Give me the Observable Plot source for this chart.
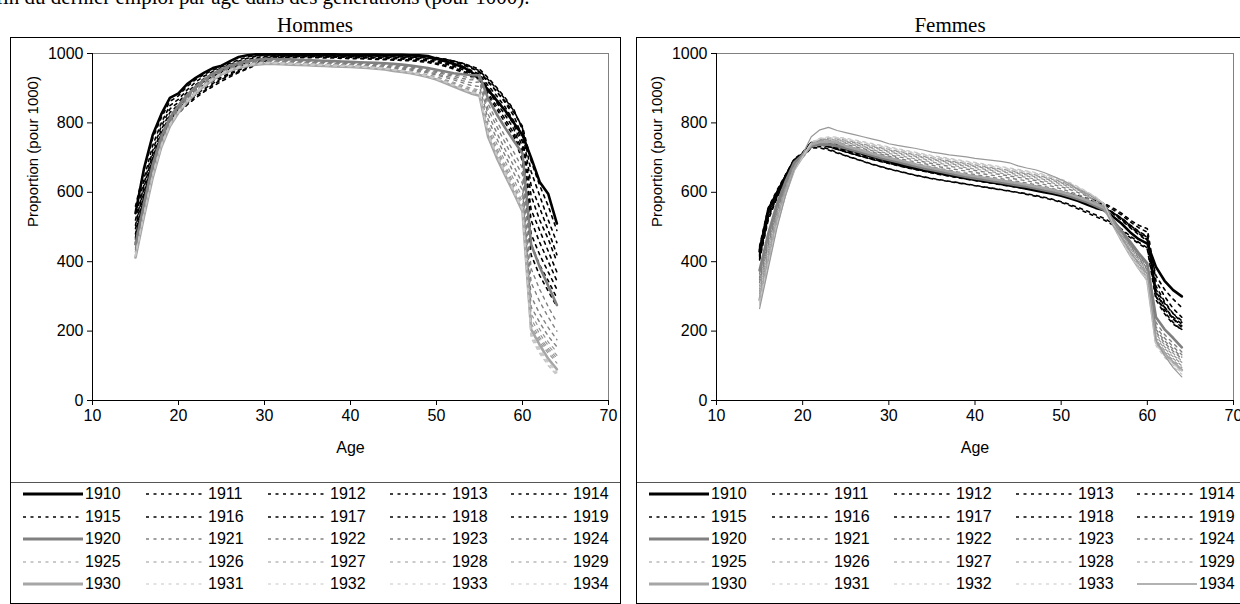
<!DOCTYPE html>
<html><head><meta charset="utf-8">
<script src="https://cdn.jsdelivr.net/npm/d3@7"></script>
<script src="https://cdn.jsdelivr.net/npm/@observablehq/plot@0.6"></script>
<style>
html,body{margin:0;padding:0;background:#fff;}
body{width:1240px;height:604px;overflow:hidden;position:relative;font-family:"Liberation Sans",Arial,sans-serif;}
.abs{position:absolute;}
.frame{position:absolute;border:1px solid #000;box-sizing:border-box;pointer-events:none;}
.divider{position:absolute;height:1px;background:#555;}
.ttl{position:absolute;font-family:"Liberation Serif","Times New Roman",serif;font-size:21px;line-height:24px;text-align:center;white-space:nowrap;}
.lg{position:absolute;font-size:16px;line-height:18px;white-space:nowrap;}
</style></head><body>
<div class="ttl" style="left:-4px;top:-15px;text-align:left;">fin du dernier emploi par âge dans des générations (pour 1000).</div>
<div class="ttl" style="left:10px;width:610px;top:13px;">Hommes</div>
<div class="ttl" style="left:850px;width:200px;top:13px;">Femmes</div>
<div id="pH" class="abs" style="left:10px;top:37px;"></div>
<div id="pF" class="abs" style="left:636px;top:37px;"></div>
<div id="legH"></div>
<div id="legF"></div>
<div class="frame" style="left:10px;top:37px;width:611px;height:567px;"></div>
<div class="divider" style="left:11px;top:482px;width:609px;"></div>
<div class="frame" style="left:636px;top:37px;width:640px;height:567px;"></div>
<div class="divider" style="left:637px;top:482px;width:640px;"></div>
<script>
const ages = [15,16,17,18,19,20,21,22,23,24,25,26,27,28,29,30,31,32,33,34,35,36,37,38,39,40,41,42,43,44,45,46,47,48,49,50,51,52,53,54,55,56,57,58,59,60,61,62,63,64];
const cohorts = [1910,1911,1912,1913,1914,1915,1916,1917,1918,1919,1920,1921,1922,1923,1924,1925,1926,1927,1928,1929,1930,1931,1932,1933,1934];
const xTicks = [10,20,30,40,50,60,70];
const yTicks = [0,200,400,600,800,1000];
const xLabel = "Age";
const yLabel = "Proportion (pour 1000)";

// Hommes
const h1910 = [540,670,765,825,872,885,912,930,945,958, 965,978,990,995,998,998,998,998,998,998, 998,998,998,998,997,997,997,997,997,996, 996,996,995,995,993,985,978,970,962,948, 925,895,865,835,800,765,700,630,595,510];
const h1911 = [560,665,755,815,862,878,905,925,940,952, 962,972,982,990,994,996,997,997,997,997, 997,997,997,996,996,996,996,995,995,995, 995,994,994,993,991,988,984,978,970,960, 945,918,890,862,830,790,690,620,560,490];
const h1912 = [520,640,735,800,850,868,895,918,935,948, 958,968,978,986,992,995,996,996,996,996, 996,996,996,996,995,995,995,995,994,994, 994,993,993,992,990,987,983,978,972,962, 950,925,898,868,835,785,660,590,520,455];
const h1913 = [505,625,720,790,840,860,888,910,928,942, 952,962,972,982,988,992,994,995,995,995, 995,995,995,995,994,994,994,993,993,993, 993,992,992,991,989,986,983,978,972,964, 955,930,902,872,838,780,620,555,490,420];
const h1914 = [495,615,710,780,830,852,880,902,920,935, 946,956,966,975,984,990,993,994,994,994, 994,994,994,993,993,993,992,992,992,991, 991,990,990,989,987,984,980,975,968,958, 948,920,890,858,820,760,590,520,465,400];
const h1915 = [480,600,700,770,822,845,872,895,912,928, 940,950,960,970,980,987,991,993,993,993, 993,993,993,992,992,991,991,990,990,990, 989,988,988,987,985,981,977,971,963,952, 940,908,878,845,805,745,550,490,430,370];
const h1916 = [470,590,695,765,815,840,865,888,905,920, 932,944,955,965,976,985,990,992,992,992, 992,992,991,991,990,990,989,989,988,988, 987,986,986,985,982,978,973,967,958,947, 935,900,868,833,795,730,520,455,400,345];
const h1917 = [465,585,690,760,810,835,860,882,898,914, 928,940,952,962,973,982,988,990,991,991, 991,991,990,990,989,989,988,987,987,986, 985,984,983,982,979,975,970,963,954,943, 932,893,858,822,782,715,480,420,370,320];
const h1918 = [455,580,685,755,805,830,855,877,893,910, 925,937,948,958,970,980,986,989,990,990, 990,990,989,989,988,987,987,986,985,984, 983,982,981,980,977,972,966,959,950,939, 928,885,848,810,770,700,450,390,345,295];
const h1919 = [450,575,680,752,800,828,852,872,890,905, 920,933,945,956,967,978,984,987,988,988, 988,988,987,987,986,985,985,984,983,982, 981,980,979,977,974,969,963,955,946,934, 925,878,840,800,760,690,420,360,315,270];
const h1920 = [450,570,680,760,815,850,880,905,925,942, 955,965,973,978,982,984,984,983,983,982, 981,980,979,978,977,976,975,974,973,972, 970,968,965,962,958,953,948,943,940,938, 937,870,825,785,748,712,450,385,330,275];
const h1921 = [440,560,670,752,810,845,875,900,920,938, 952,962,970,975,979,981,981,980,980,979, 978,977,976,975,974,973,972,971,970,969, 967,964,961,957,953,948,943,938,934,930, 930,855,805,760,715,670,380,320,270,225];
const h1922 = [435,555,665,748,805,842,872,898,918,935, 950,960,968,973,977,979,979,978,978,977, 976,975,974,973,972,971,970,969,968,966, 964,961,958,954,950,945,940,934,928,924, 925,840,790,742,695,650,340,285,240,200];
const h1923 = [430,550,660,745,802,840,870,895,915,933, 948,958,966,972,976,978,978,977,976,975, 974,973,972,971,970,969,968,967,965,963, 961,958,955,951,947,941,935,929,922,916, 918,825,772,722,675,625,300,250,210,175];
const h1924 = [428,548,658,742,800,838,868,893,913,931, 946,956,965,971,975,977,977,976,975,974, 973,972,971,970,969,968,967,965,963,961, 958,955,952,948,944,938,931,924,916,908, 905,810,755,705,655,605,270,225,185,155];
const h1925 = [425,545,655,740,798,836,866,892,912,930, 945,955,964,970,974,976,976,975,974,973, 972,971,970,969,968,967,966,964,962,960, 955,952,948,944,939,933,925,917,908,900, 895,795,740,688,636,585,250,205,168,140];
const h1926 = [422,542,652,738,796,835,865,890,911,929, 944,954,963,969,973,975,975,974,973,972, 971,970,969,968,967,966,965,963,961,959, 953,950,946,942,937,930,922,914,904,896, 892,785,728,676,624,572,235,192,158,130];
const h1927 = [420,540,650,736,795,834,864,889,910,928, 943,953,962,968,972,974,974,973,972,971, 970,969,968,967,966,965,964,962,960,958, 952,949,945,940,935,928,920,911,901,893, 889,778,720,668,615,563,222,182,150,122];
const h1928 = [418,538,648,735,794,833,863,888,909,927, 942,952,961,967,971,973,973,972,971,970, 969,968,967,966,965,964,963,961,959,957, 951,948,944,939,933,926,918,909,899,890, 886,772,714,662,608,556,212,175,143,115];
const h1929 = [416,536,646,734,793,832,862,887,908,926, 941,951,960,966,970,972,972,971,970,969, 968,967,966,965,964,963,962,960,958,956, 950,947,943,938,932,925,916,907,897,888, 884,768,710,657,604,550,205,168,136,108];
const h1930 = [412,532,642,730,790,830,860,885,906,924, 940,950,958,964,968,970,970,969,968,967, 966,965,964,963,962,961,960,958,956,954, 950,947,943,938,932,925,915,905,895,885, 878,760,700,648,598,545,205,160,120,90];
const h1931 = [415,535,645,732,792,831,861,886,907,925, 941,951,959,965,969,971,971,970,969,968, 967,966,965,964,963,962,961,959,957,955, 951,948,944,939,933,926,917,907,897,887, 880,765,705,652,600,548,195,150,112,85];
const h1932 = [418,538,648,734,794,832,862,887,908,926, 942,952,960,966,970,972,972,971,970,969, 968,967,966,965,964,963,962,960,958,956, 952,949,945,940,934,927,918,908,898,888, 882,768,708,655,603,550,190,145,108,80];
const h1933 = [420,540,650,736,795,833,863,888,909,927, 943,953,961,967,971,973,973,972,971,970, 969,968,967,966,965,964,963,961,959,957, 953,950,946,941,935,928,919,909,899,889, 884,770,710,657,605,552,185,140,102,75];
const h1934 = [422,542,652,738,797,834,864,889,910,928, 944,954,962,968,972,974,974,973,972,971, 970,969,968,967,966,965,964,962,960,958, 954,951,947,942,936,929,920,910,900,890, 885,772,712,660,608,555,180,135,100,72];

// Femmes
const f1910 = [430,550,598,645,692,710,742,745,740,733, 725,718,710,703,697,690,682,676,670,664, 660,655,650,645,640,636,632,628,624,620, 615,610,605,600,596,590,583,575,565,555, 548,530,510,485,465,452,385,345,318,300];
const f1911 = [445,555,605,650,695,715,745,748,744,738, 731,724,717,710,704,698,691,685,679,673, 668,663,658,653,648,644,640,636,632,628, 624,619,614,609,604,598,591,583,574,565, 556,540,522,500,482,465,360,320,292,268];
const f1912 = [420,535,590,640,690,712,740,742,738,731, 724,717,711,705,699,693,687,681,675,670, 665,661,657,653,649,645,641,637,633,629, 625,621,617,612,607,602,596,590,583,576, 568,555,540,520,505,495,345,300,265,240];
const f1913 = [440,545,600,648,693,708,735,738,733,725, 717,710,703,697,691,685,679,673,667,662, 657,652,647,642,638,634,630,626,622,618, 614,610,606,602,597,592,586,579,571,562, 553,538,520,498,478,460,330,285,250,225];
const f1914 = [415,530,588,638,688,708,738,740,735,728, 721,714,708,702,696,690,684,678,672,667, 662,657,652,648,644,640,636,632,628,624, 620,616,612,608,603,598,592,586,579,572, 564,550,535,515,498,485,315,270,235,210];
const f1915 = [425,540,594,642,690,705,730,732,725,715, 706,698,690,682,675,668,662,656,650,645, 640,636,632,628,624,620,616,612,608,604, 600,596,591,586,580,573,565,556,546,535, 525,510,494,474,456,440,300,255,225,202];
const f1916 = [410,525,585,636,686,702,728,728,722,713, 705,697,689,681,674,667,661,655,649,644, 639,635,631,627,623,619,615,611,607,603, 599,594,589,584,578,571,562,552,541,530, 520,506,490,470,452,436,290,250,220,205];
const f1917 = [435,548,600,646,691,710,736,739,734,726, 718,710,703,696,690,684,678,672,667,662, 657,652,648,644,640,636,632,628,624,620, 616,612,608,604,599,594,588,581,573,565, 556,542,526,506,488,472,320,280,250,230];
const f1918 = [418,532,590,640,689,707,735,737,732,724, 716,709,702,695,689,683,677,671,666,661, 656,651,647,643,639,635,631,627,623,619, 615,611,607,603,598,593,587,580,572,564, 555,541,525,505,486,470,310,268,240,220];
const f1919 = [405,520,582,634,685,705,733,736,731,724, 717,710,703,697,691,685,679,673,668,663, 658,654,650,646,642,638,634,630,626,622, 618,614,610,606,601,596,590,583,575,566, 557,542,525,503,482,462,300,262,236,215];
const f1920 = [375,480,565,630,685,708,732,738,737,733, 727,720,713,706,699,693,687,681,675,669, 664,659,654,649,644,640,636,632,628,624, 620,616,611,606,601,595,588,580,571,560, 549,520,490,458,425,395,240,205,180,153];
const f1921 = [365,470,558,625,683,708,733,740,739,735, 729,722,715,708,702,696,690,684,678,673, 668,663,658,653,649,645,641,637,633,629, 625,621,616,611,605,599,592,584,575,565, 553,522,490,456,422,390,225,190,165,140];
const f1922 = [355,462,552,622,681,707,734,741,741,737, 731,725,718,712,706,700,694,688,683,678, 673,668,664,659,655,651,647,643,639,635, 631,627,622,617,611,604,597,589,579,568, 556,522,488,453,418,385,212,180,155,132];
const f1923 = [348,455,548,620,680,707,735,743,743,740, 734,728,722,716,710,704,698,693,688,683, 678,673,669,665,661,657,653,649,645,641, 637,633,628,623,617,610,602,593,583,572, 558,522,486,450,414,380,205,172,148,125];
const f1924 = [340,448,543,617,678,706,736,745,746,743, 738,732,726,720,714,708,703,698,693,688, 683,679,675,671,667,663,659,655,651,647, 643,639,634,629,623,616,608,599,589,577, 562,522,484,447,410,376,198,166,142,120];
const f1925 = [330,440,538,614,676,706,737,747,748,746, 741,735,729,723,717,712,707,702,697,692, 687,683,679,675,671,667,663,659,655,651, 647,643,638,633,627,620,612,603,593,580, 565,522,482,444,406,372,192,160,136,114];
const f1926 = [322,432,532,610,674,705,738,748,750,748, 744,738,732,726,721,716,711,706,701,696, 691,687,683,679,675,671,667,663,659,655, 651,647,642,637,631,624,616,606,595,582, 566,520,478,440,402,368,186,155,131,110];
const f1927 = [315,425,527,607,672,705,739,750,752,750, 746,740,734,729,724,719,714,709,704,699, 694,690,686,682,678,674,670,666,662,658, 654,650,645,640,634,627,618,608,597,583, 567,518,475,436,398,363,180,150,126,105];
const f1928 = [308,418,522,604,670,704,740,751,754,752, 748,743,737,732,727,722,717,712,707,702, 697,693,689,685,681,677,673,669,665,661, 657,653,648,643,637,629,620,610,598,584, 567,516,472,432,394,358,175,145,121,100];
const f1929 = [300,410,517,600,668,704,741,752,755,754, 750,745,739,734,729,724,719,714,709,704, 699,695,691,687,683,679,675,671,667,663, 659,655,650,645,639,631,622,611,599,585, 567,514,469,428,390,354,170,140,116,95];
const f1930 = [290,400,510,596,665,703,738,745,746,743, 733,726,719,712,705,699,693,687,681,675, 670,665,660,655,650,646,642,638,634,630, 626,622,617,612,607,601,594,586,577,566, 555,508,462,420,382,348,168,135,110,88];
const f1931 = [285,395,506,594,664,703,742,754,757,756, 752,747,742,737,732,727,722,717,712,707, 702,698,694,690,686,682,678,674,670,666, 662,658,653,648,642,634,624,613,600,585, 566,510,465,424,386,350,165,132,106,85];
const f1932 = [280,390,502,592,663,703,743,755,758,757, 754,749,744,739,734,729,724,719,714,709, 704,700,696,692,688,684,680,676,672,668, 664,660,655,650,644,636,626,614,601,586, 566,508,462,420,382,346,162,128,102,80];
const f1933 = [275,385,498,590,662,703,744,756,760,759, 756,751,746,741,736,731,726,721,716,711, 706,702,698,694,690,686,682,678,674,670, 666,662,657,652,646,638,628,616,602,587, 566,506,460,418,378,342,158,124,98,76];
const f1934 = [265,380,495,590,665,710,760,780,787,778, 772,766,760,754,748,740,735,731,727,722, 716,712,708,705,702,698,695,692,689,685, 676,670,665,657,647,636,624,608,590,572, 556,505,470,430,395,366,173,130,95,68];

const hommesSeries = [h1910,h1911,h1912,h1913,h1914,h1915,h1916,h1917,h1918,h1919,h1920,h1921,h1922,h1923,h1924,h1925,h1926,h1927,h1928,h1929,h1930,h1931,h1932,h1933,h1934];
const femmesSeries = [f1910,f1911,f1912,f1913,f1914,f1915,f1916,f1917,f1918,f1919,f1920,f1921,f1922,f1923,f1924,f1925,f1926,f1927,f1928,f1929,f1930,f1931,f1932,f1933,f1934];

function styleFor(c, panel) {
  if (c === 1910) return {stroke:"#000000", w:2.6, dash:null};
  if (c < 1920) return {stroke:"#000000", w:1.6, dash:"3,4.5"};
  if (c === 1920) return {stroke:"#808080", w:2.6, dash:null};
  if (c < 1925) return {stroke:"#808080", w:1.4, dash:"3,4.5"};
  if (c < 1930) return {stroke:"#969696", w:1.2, dash:"3,4.5"};
  if (c === 1930) return {stroke:"#a6a6a6", w:2.6, dash:null};
  if (c === 1934 && panel === "F") return {stroke:"#999999", w:1.2, dash:null};
  return {stroke:"#c6c6c6", w:1.2, dash:"3,4.5"};
}

function makePanel(series, panelKey, marginLeft, marginRight) {
  const marks = [
    Plot.ruleY([1000], {stroke:"#808080", strokeWidth:1}),
    Plot.ruleX([70], {stroke:"#808080", strokeWidth:1})
  ];
  cohorts.forEach((c, i) => {
    const s = styleFor(c, panelKey);
    const rows = ages.map((a, j) => ({age:a, value:series[i][j], cohort:c}));
    const opts = {x:"age", y:"value", stroke:s.stroke, strokeWidth:s.w, strokeLinejoin:"round"};
    if (s.dash) opts.strokeDasharray = s.dash;
    marks.push(Plot.line(rows, opts));
  });
  marks.push(Plot.ruleY([0], {stroke:"#000"}));
  marks.push(Plot.ruleX([10], {stroke:"#000"}));
  marks.push(Plot.axisX({ticks:xTicks, tickSize:5, tickPadding:4, label:null, tickFormat:d=>String(d), stroke:"#000", fontSize:16}));
  marks.push(Plot.axisY({ticks:yTicks, tickSize:5, tickPadding:4, label:null, tickFormat:d=>String(d), stroke:"#000", fontSize:16}));
  marks.push(Plot.text([xLabel], {frameAnchor:"bottom", dy:52, fontSize:16, fill:"#000"}));
  marks.push(Plot.text([yLabel], {frameAnchor:"left", dx:-59, rotate:-90, fontSize:15, fill:"#000"}));
  return Plot.plot({
    width:610, height:445,
    marginLeft, marginRight, marginTop:16, marginBottom:82,
    x:{domain:[10,70]},
    y:{domain:[0,1000]},
    style:{fontFamily:"Liberation Sans, Arial, sans-serif", fontSize:"16px", color:"#000", background:"transparent", overflow:"visible", maxWidth:"none"},
    marks
  });
}

document.getElementById("pH").appendChild(makePanel(hommesSeries, "H", 82, 12));
document.getElementById("pF").appendChild(makePanel(femmesSeries, "F", 80, 13));

const labelCols = [75, 198, 320, 442, 563];
function makeLegend(containerId, panelLeft, panelKey) {
  const el = document.getElementById(containerId);
  cohorts.forEach((c, k) => {
    const row = Math.floor(k / 5), col = k % 5;
    const lx = panelLeft + labelCols[col];
    const cy = 494 + row * 22.5;
    const s = styleFor(c, panelKey);
    const svg = d3.create("svg").attr("width", 60).attr("height", 10)
      .style("position", "absolute").style("left", (lx - 62) + "px").style("top", (cy - 5) + "px");
    const ln = svg.append("line").attr("x1", 0).attr("x2", 60).attr("y1", 5).attr("y2", 5)
      .attr("stroke", s.stroke).attr("stroke-width", s.w + (s.dash ? 0 : 0.3));
    if (s.dash) ln.attr("stroke-dasharray", s.dash);
    el.appendChild(svg.node());
    const t = document.createElement("div");
    t.className = "lg";
    t.style.left = lx + "px";
    t.style.top = (cy - 9) + "px";
    t.textContent = String(c);
    el.appendChild(t);
  });
}
makeLegend("legH", 10, "H");
makeLegend("legF", 636, "F");
</script>
</body></html>
